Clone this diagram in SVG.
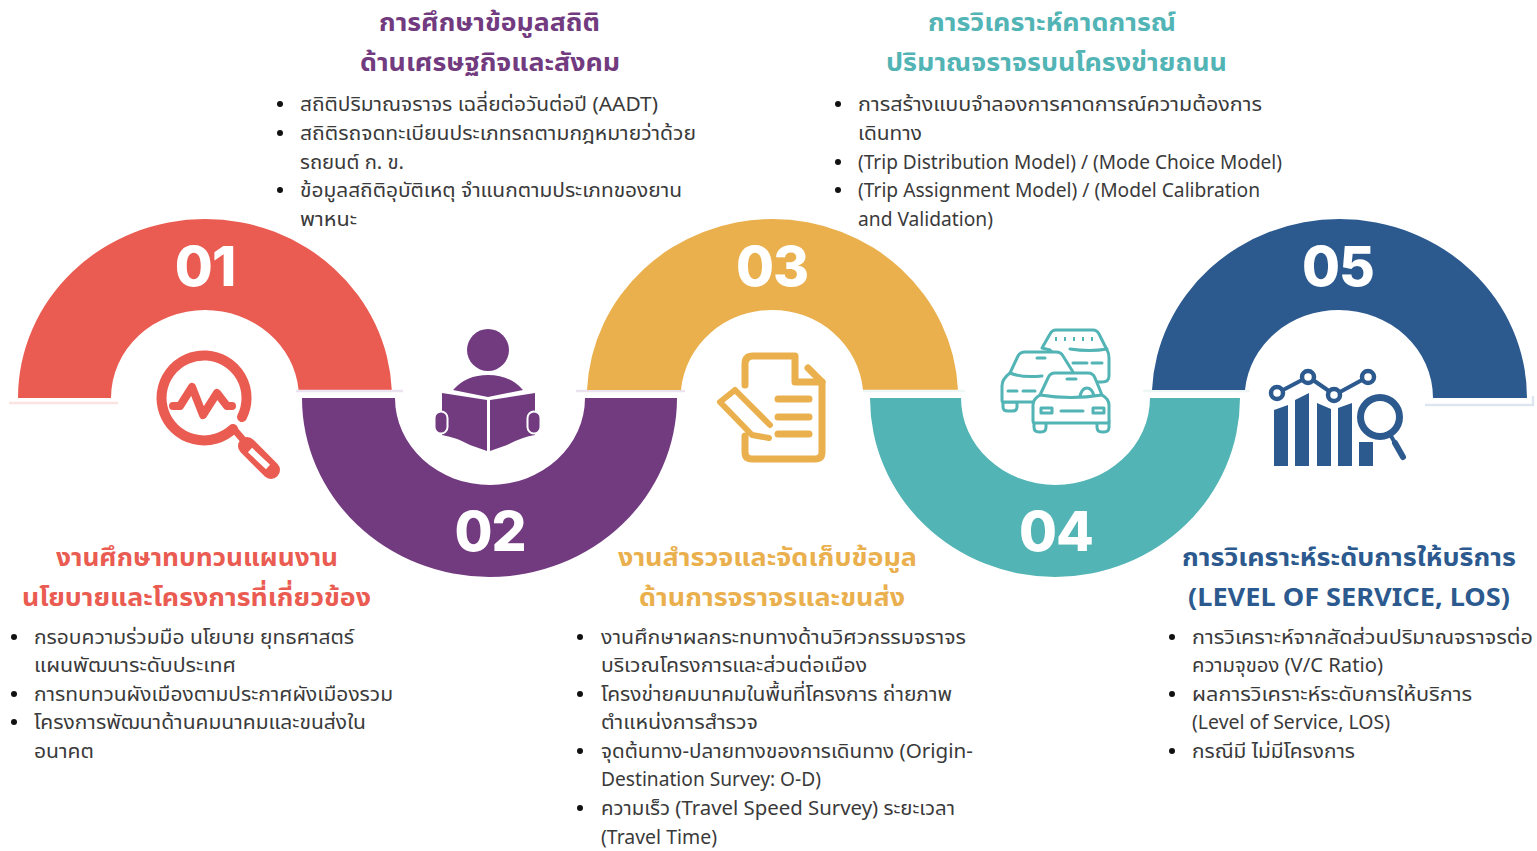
<svg xmlns="http://www.w3.org/2000/svg" width="1537" height="851" viewBox="0 0 1537 851">
<style>
text{font-family:"Noto Sans","Noto Sans Thai","Inter","DejaVu Sans",sans-serif}
.h{font-size:25px;font-weight:700;text-anchor:start}
.b{font-size:20px;fill:#3a3a3a}
.n{font-size:55px;font-weight:800;fill:#fff;text-anchor:middle;letter-spacing:-1px;font-family:"Inter","Open Sans",sans-serif}
.dot{fill:#111}
.halo{fill:none;stroke-width:2.5}
.red{fill:#EA5B51}.pur{fill:#723B80}.org{fill:#EAB04E}.tea{fill:#52B4B5}.blu{fill:#2C5A8F}
.car{fill:#fff;stroke:#52B4B5;stroke-width:3;stroke-linejoin:round;stroke-linecap:round}
.car .o{fill:none}
</style>

<g id="step-01">
<path class="halo" stroke="#fbe3e1" d="M9 403H118"/>
<path class="red" d="M18 398A187 179 0 0 1 205 219A187 179 0 0 1 391.800 390H298.600A94 88 0 0 0 205 310A94 88 0 0 0 111 398Z"/>
<text class="n" x="205" y="286">01</text>
<g fill="none" stroke="#EA5B51" stroke-linecap="round" stroke-linejoin="round">
<path stroke-width="10" d="M242 417A42.500 42.500 0 1 0 233 429"/>
<path stroke-width="8" d="M173 406H180L192 387L203 415L217 393L227 406H232"/>
<path stroke-width="7" d="M233 428L245 442"/>
<path stroke-width="18" d="M247 446L271 470"/>
<path stroke-width="6" stroke="#fff" stroke-linecap="butt" d="M250 450L268 467"/>
</g>
<text class="h" fill="#EA5B51" x="56" y="566" textLength="282" lengthAdjust="spacingAndGlyphs">งานศึกษาทบทวนแผนงาน</text>
<text class="h" fill="#EA5B51" x="22" y="606" textLength="349" lengthAdjust="spacingAndGlyphs">นโยบายและโครงการที่เกี่ยวข้อง</text>
<circle class="dot" cx="14" cy="637" r="3"/><circle class="dot" cx="14" cy="694" r="3"/><circle class="dot" cx="14" cy="722" r="3"/>
<text class="b" x="34" y="644" textLength="320" lengthAdjust="spacingAndGlyphs">กรอบความร่วมมือ นโยบาย ยุทธศาสตร์</text>
<text class="b" x="34" y="672" textLength="202" lengthAdjust="spacingAndGlyphs">แผนพัฒนาระดับประเทศ</text>
<text class="b" x="34" y="701" textLength="359" lengthAdjust="spacingAndGlyphs">การทบทวนผังเมืองตามประกาศผังเมืองรวม</text>
<text class="b" x="34" y="729" textLength="332" lengthAdjust="spacingAndGlyphs">โครงการพัฒนาด้านคมนาคมและขนส่งใน</text>
<text class="b" x="34" y="758" textLength="60" lengthAdjust="spacingAndGlyphs">อนาคต</text>
</g>

<g id="step-02">
<path class="halo" stroke="#ebe4f0" d="M296 391H403M576 391H685"/>
<path class="pur" d="M302 398A187.500 179 0 0 0 489.500 577A187.500 179 0 0 0 677 398H585A95 87 0 0 1 490 485A95 87 0 0 1 395 398Z"/>
<text class="n" x="490" y="551">02</text>
<g class="pur">
<circle cx="488" cy="350" r="21"/>
<path d="M453 390Q466 375 488 375Q510 375 523 390L488 397Z"/>
<path d="M442 393L487 400V451L470 445Q455 437 442 435Z"/>
<path d="M535 393L490 400V451L507 445Q522 437 535 435Z"/>
<g stroke="#fff" stroke-width="2"><rect x="434.500" y="411.500" width="13" height="22" rx="6.500"/><rect x="527.500" y="411.500" width="13" height="22" rx="6.500"/></g>
</g>
<text class="h" fill="#723B80" x="379" y="31" textLength="221" lengthAdjust="spacingAndGlyphs">การศึกษาข้อมูลสถิติ</text>
<text class="h" fill="#723B80" x="360" y="71" textLength="260" lengthAdjust="spacingAndGlyphs">ด้านเศรษฐกิจและสังคม</text>
<circle class="dot" cx="280" cy="104" r="3"/><circle class="dot" cx="280" cy="133" r="3"/><circle class="dot" cx="280" cy="190" r="3"/>
<text class="b" x="300" y="111" textLength="358" lengthAdjust="spacingAndGlyphs">สถิติปริมาณจราจร เฉลี่ยต่อวันต่อปี (AADT)</text>
<text class="b" x="300" y="140" textLength="396" lengthAdjust="spacingAndGlyphs">สถิติรถจดทะเบียนประเภทรถตามกฎหมายว่าด้วย</text>
<text class="b" x="300" y="169" textLength="104" lengthAdjust="spacingAndGlyphs">รถยนต์ ก. ข.</text>
<text class="b" x="300" y="197" textLength="382" lengthAdjust="spacingAndGlyphs">ข้อมูลสถิติอุบัติเหตุ จำแนกตามประเภทของยาน</text>
<text class="b" x="300" y="226" textLength="57" lengthAdjust="spacingAndGlyphs">พาหนะ</text>
</g>

<g id="step-03">
<path class="org" d="M587 390A186 179 0 0 1 772.500 219A186 179 0 0 1 958 390H863A91 88 0 0 0 772 310A91 88 0 0 0 681 390Z"/>
<text class="n" x="772" y="286">03</text>
<g fill="none" stroke="#EAB04E" stroke-linecap="round" stroke-linejoin="round" stroke-width="7">
<path d="M745 385V364Q745 356 753 356H795V382H822V452Q822 459 815 459H752Q745 459 745 452V436"/>
<path d="M808 368L822 382"/>
<path d="M778 399H809M778 417H809M778 434H809"/>
<path stroke-width="6" d="M770 425L735 390L720 402L752 435L769 438"/>
</g>
<text class="h" fill="#EAB04E" x="618" y="566" textLength="299" lengthAdjust="spacingAndGlyphs">งานสำรวจและจัดเก็บข้อมูล</text>
<text class="h" fill="#EAB04E" x="639" y="606" textLength="266" lengthAdjust="spacingAndGlyphs">ด้านการจราจรและขนส่ง</text>
<circle class="dot" cx="580" cy="637" r="3"/><circle class="dot" cx="580" cy="694" r="3"/><circle class="dot" cx="580" cy="751" r="3"/><circle class="dot" cx="580" cy="808" r="3"/>
<text class="b" x="601" y="644" textLength="365" lengthAdjust="spacingAndGlyphs">งานศึกษาผลกระทบทางด้านวิศวกรรมจราจร</text>
<text class="b" x="601" y="672" textLength="266" lengthAdjust="spacingAndGlyphs">บริเวณโครงการและส่วนต่อเมือง</text>
<text class="b" x="601" y="701" textLength="351" lengthAdjust="spacingAndGlyphs">โครงข่ายคมนาคมในพื้นที่โครงการ ถ่ายภาพ</text>
<text class="b" x="601" y="729" textLength="157" lengthAdjust="spacingAndGlyphs">ตำแหน่งการสำรวจ</text>
<text class="b" x="601" y="758" textLength="372" lengthAdjust="spacingAndGlyphs">จุดต้นทาง-ปลายทางของการเดินทาง (Origin-</text>
<text class="b" x="601" y="786" textLength="220" lengthAdjust="spacingAndGlyphs">Destination Survey: O-D)</text>
<text class="b" x="601" y="815" textLength="354" lengthAdjust="spacingAndGlyphs">ความเร็ว (Travel Speed Survey) ระยะเวลา</text>
<text class="b" x="601" y="844" textLength="116" lengthAdjust="spacingAndGlyphs">(Travel Time)</text>
</g>

<g id="step-04">
<path class="halo" stroke="#eef6f6" d="M863 391H965M1143 391H1250"/>
<path class="tea" d="M870 398A185 179 0 0 0 1055 577A185 179 0 0 0 1240 398H1150A95 87 0 0 1 1055.500 485A95 87 0 0 1 961 398Z"/>
<text class="n" x="1056" y="551">04</text>
<g class="car">
<path d="M1042 348L1050 334Q1052 330 1056 330H1093Q1097 330 1099 334L1107 350Q1109 353 1109 358V376Q1109 382 1102 382H1080L1050 350Z"/>
<path class="o" d="M1070 349Q1090 352 1107 349M1073 363H1087M1092 363H1102"/>
<path class="o" stroke-dasharray="2 7" stroke-linecap="butt" stroke-width="4" d="M1055 339H1094"/>
<path d="M1003 402H1017V407Q1017 411 1012 411H1008Q1003 411 1003 407Z"/>
<path d="M1010 373L1018 356Q1020 352 1025 352H1056Q1061 352 1063 356L1073 372L1075 402H1003Q1002 402 1002 400V386Q1002 379 1010 373Z"/>
<path class="o" d="M1010 373Q1022 378 1042 376M1037 358H1045M1008 391H1017M1023 391H1035"/>
<path d="M1034 421H1046V427Q1046 432 1041 432H1039Q1034 432 1034 427ZM1097 421H1109V427Q1109 432 1104 432H1102Q1097 432 1097 427Z"/>
<path d="M1040 395L1048 378Q1050 373 1055 373H1088Q1093 373 1095 378L1102 395Q1109 399 1109 405V421Q1109 423 1107 423H1035Q1033 423 1033 421V405Q1033 399 1040 395Z"/>
<path class="o" d="M1040 395Q1071 400 1102 395M1080 396Q1082 388 1087 388Q1092 388 1094 396M1067 379H1076M1041 408H1052V413H1041ZM1093 408H1104V413H1093ZM1061 411H1083"/>
</g>
<text class="h" fill="#52B4B5" x="928" y="31" textLength="248" lengthAdjust="spacingAndGlyphs">การวิเคราะห์คาดการณ์</text>
<text class="h" fill="#52B4B5" x="886" y="71" textLength="341" lengthAdjust="spacingAndGlyphs">ปริมาณจราจรบนโครงข่ายถนน</text>
<circle class="dot" cx="838" cy="104" r="3"/><circle class="dot" cx="838" cy="162" r="3"/><circle class="dot" cx="838" cy="190" r="3"/>
<text class="b" x="858" y="111" textLength="404" lengthAdjust="spacingAndGlyphs">การสร้างแบบจำลองการคาดการณ์ความต้องการ</text>
<text class="b" x="858" y="140" textLength="64" lengthAdjust="spacingAndGlyphs">เดินทาง</text>
<text class="b" x="858" y="169" textLength="424" lengthAdjust="spacingAndGlyphs">(Trip Distribution Model) / (Mode Choice Model)</text>
<text class="b" x="858" y="197" textLength="402" lengthAdjust="spacingAndGlyphs">(Trip Assignment Model) / (Model Calibration</text>
<text class="b" x="858" y="226" textLength="135" lengthAdjust="spacingAndGlyphs">and Validation)</text>
</g>

<g id="step-05">
<path class="halo" stroke="#dde6f0" d="M1425 405H1533V396"/>
<path class="blu" d="M1152 390A187.500 179 0 0 1 1339.500 219A187.500 179 0 0 1 1527 398H1433A94 88 0 0 0 1339 310A94 88 0 0 0 1245 390Z"/>
<text class="n" x="1338" y="286">05</text>
<path class="blu" d="M1274 410L1288 405V466H1274ZM1295 400L1309 393V466H1295ZM1317 403L1331 409V466H1317ZM1338 408L1352 403V466H1338ZM1359 442H1373V466H1359Z"/>
<g fill="none" stroke="#2C5A8F" stroke-linecap="round">
<path stroke-width="4" d="M1283 390L1302 380M1313 380L1329 391M1340 392L1362 380"/>
<g stroke-width="4.500" fill="#fff"><circle cx="1277" cy="393" r="6"/><circle cx="1308" cy="377" r="6"/><circle cx="1334" cy="395" r="6"/><circle cx="1368" cy="377" r="6"/></g>
<circle cx="1380" cy="417" r="23" stroke="#fff" stroke-width="3" fill="#fff"/>
<circle cx="1380" cy="417" r="19.500" stroke-width="7" fill="#fff"/>
<path stroke-width="6" d="M1395 443L1403 457"/>
<path stroke-width="4" d="M1391 436L1395 443"/>
</g>
<text class="h" fill="#2C5A8F" x="1182" y="566" textLength="334" lengthAdjust="spacingAndGlyphs">การวิเคราะห์ระดับการให้บริการ</text>
<text class="h" fill="#2C5A8F" x="1188" y="606" textLength="322" lengthAdjust="spacingAndGlyphs">(LEVEL OF SERVICE, LOS)</text>
<circle class="dot" cx="1172" cy="637" r="3"/><circle class="dot" cx="1172" cy="694" r="3"/><circle class="dot" cx="1172" cy="751" r="3"/>
<text class="b" x="1192" y="644" textLength="341" lengthAdjust="spacingAndGlyphs">การวิเคราะห์จากสัดส่วนปริมาณจราจรต่อ</text>
<text class="b" x="1192" y="672" textLength="191" lengthAdjust="spacingAndGlyphs">ความจุของ (V/C Ratio)</text>
<text class="b" x="1192" y="701" textLength="280" lengthAdjust="spacingAndGlyphs">ผลการวิเคราะห์ระดับการให้บริการ</text>
<text class="b" x="1192" y="729" textLength="198" lengthAdjust="spacingAndGlyphs">(Level of Service, LOS)</text>
<text class="b" x="1192" y="758" textLength="163" lengthAdjust="spacingAndGlyphs">กรณีมี ไม่มีโครงการ</text>
</g>
</svg>
